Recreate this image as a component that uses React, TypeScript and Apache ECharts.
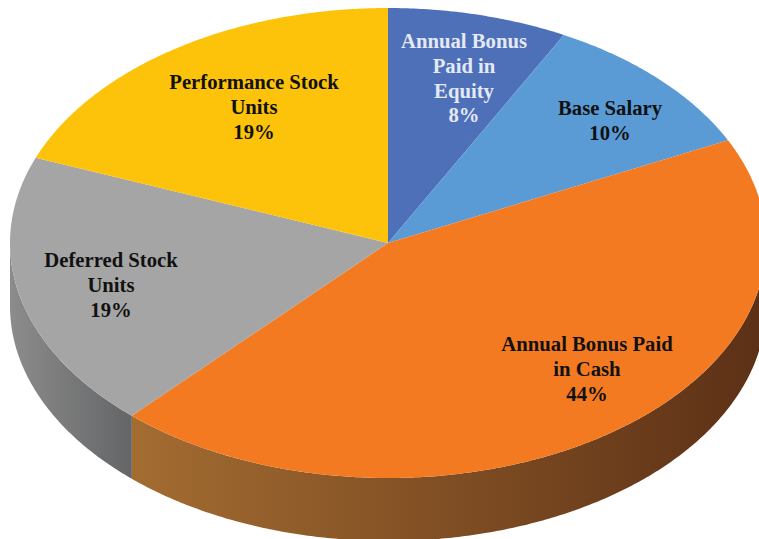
import React, { useEffect, useRef } from "react";
import * as echarts from "echarts";

const categories = ["Annual Bonus Paid in Equity", "Base Salary", "Annual Bonus Paid in Cash", "Deferred Stock Units", "Performance Stock Units"];
const shares = [7.7, 10.1, 44.05, 19.05, 19.1];
const labelLines = [
  ["Annual Bonus", "Paid in", "Equity", "8%"],
  ["Base Salary", "10%"],
  ["Annual Bonus Paid", "in Cash", "44%"],
  ["Deferred Stock", "Units", "19%"],
  ["Performance Stock", "Units", "19%"],
];
const topColors = ["#4d70b9", "#5b9bd5", "#f47a22", "#a5a5a5", "#fdc30b"];
const wallStart = ["#3a5488", "#44749f", "#a36c31", "#8c8c8c", "#bf9000"];
const wallEnd = ["#3a5488", "#44749f", "#5c3016", "#646567", "#bf9000"];
const textColors = ["#e4e9f4", "#111111", "#111111", "#111111", "#111111"];
const labelCentres = [[464, 41], [610, 108], [587, 344], [111, 260], [254, 82]];

const CX = 388, CY = 243, RX = 378, RY = 235, DEPTH = 63, LINE = 24.8;
const pt = (deg: number, dy = 0): number[] => {
  const t = (deg * Math.PI) / 180;
  return [CX + RX * Math.sin(t), CY - RY * Math.cos(t) + dy];
};
const arc = (a: number, b: number, dy = 0): number[][] => {
  const out: number[][] = [];
  const n = Math.max(2, Math.ceil(Math.abs(b - a) * 2));
  for (let i = 0; i <= n; i++) out.push(pt(a + ((b - a) * i) / n, dy));
  return out;
};

export default function App() {
  const ref = useRef<HTMLDivElement>(null);
  useEffect(() => {
    document.body.style.margin = "0";
    const chart = echarts.init(ref.current!, undefined, { renderer: "svg" });
    const total = shares.reduce((s, v) => s + v, 0);
    const wallItem = (params: any, api: any) => {
      const i = params.dataIndex;
      const before = shares.slice(0, i).reduce((s, v) => s + v, 0);
      const a = (before / total) * 360;
      const b = ((before + api.value(0)) / total) * 360;
      const from = Math.max(a, 90), to = Math.min(b, 270);
      if (to <= from) return { type: "group", children: [] };
      return {
        type: "polygon",
        shape: { points: [...arc(from, to), ...arc(to, from, DEPTH)] },
        style: {
          // Gradient runs left-to-right across the visible wall.
          fill: new echarts.graphic.LinearGradient(0, 0, 1, 0, [
            { offset: 0, color: wallStart[i] },
            { offset: 1, color: wallEnd[i] },
          ]),
        },
      };
    };
    const topItem = (params: any, api: any) => {
      const i = params.dataIndex;
      const before = shares.slice(0, i).reduce((s, v) => s + v, 0);
      const a = (before / total) * 360;
      const b = ((before + api.value(0)) / total) * 360;
      const [lx, ly] = labelCentres[i];
      return {
        type: "group",
        children: [
          { type: "polygon", shape: { points: [[CX, CY], ...arc(a, b)] }, style: { fill: topColors[i] } },
          ...labelLines[i].map((t, k) => ({
            type: "text",
            z2: 10,
            style: {
              text: t,
              x: lx,
              y: ly + k * LINE,
              align: "center",
              verticalAlign: "middle",
              fill: textColors[i],
              font: 'bold 20.7px "Liberation Serif"',
            },
          })),
        ],
      };
    };
    const data = categories.map((name, i) => ({ name, value: shares[i] }));
    chart.setOption({
      animation: false,
      backgroundColor: "#ffffff",
      tooltip: { show: false },
      series: [
        { type: "custom", coordinateSystem: "none", renderItem: wallItem, data, z: 1, silent: true },
        { type: "custom", coordinateSystem: "none", renderItem: topItem, data, z: 2, silent: true },
      ],
    });
    return () => chart.dispose();
  }, []);
  return <div ref={ref} style={{ width: 759, height: 539 }} />;
}
